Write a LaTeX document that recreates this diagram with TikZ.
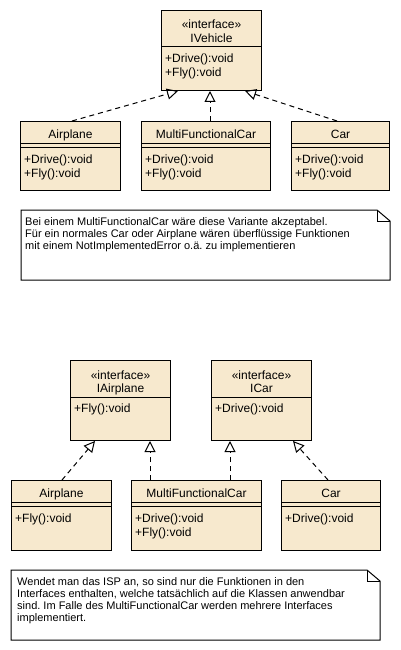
\documentclass[tikz,border=0pt]{standalone}
\usepackage{fontspec}
\setmainfont{Liberation Sans}
\usetikzlibrary{arrows.meta,calc}
\definecolor{umlfill}{RGB}{247,233,206}
\frenchspacing
\tikzset{
  cls/.style={draw=black, fill=umlfill, line width=1pt, anchor=north west, inner sep=0pt},
  ttl/.style={anchor=base, inner sep=0pt, font=\fontsize{12}{14}\selectfont},
  mth/.style={anchor=base west, inner sep=0pt, font=\fontsize{12}{14}\selectfont},
  ntxt/.style={anchor=base west, inner sep=0pt, font=\fontsize{11}{12}\selectfont},
  sep/.style={line width=1pt},
  impl/.style={line width=1pt, dash pattern=on 5pt off 4pt, -{Triangle[open,length=11pt,width=11pt]}},
  notebox/.style={draw=black, fill=white, line width=1pt, line join=miter}
}
\newcommand\myclass[6]{% name, x, y, w, h, title
  \node[cls, minimum width=#4, minimum height=#5] (#1) at (#2,#3) {};
  \draw[sep] ([yshift=-22pt]#1.north west) -- ([yshift=-22pt]#1.north east);
  \draw[sep] ([yshift=-26pt]#1.north west) -- ([yshift=-26pt]#1.north east);
  \node[ttl] (#1-t) at ([yshift=-17.5pt]#1.north) {#6};
}
\newcommand\myiface[6]{% name, x, y, w, h, title
  \node[cls, minimum width=#4, minimum height=#5] (#1) at (#2,#3) {};
  \draw[sep] ([yshift=-37pt]#1.north west) -- ([yshift=-37pt]#1.north east);
  \node[ttl] (#1-s) at ([yshift=-19pt]#1.north) {«interface»};
  \node[ttl] (#1-t) at ([yshift=-32.5pt]#1.north) {#6};
}
\begin{document}
\begin{tikzpicture}[x=1pt,y=-1pt]
\useasboundingbox[fill=white] (0,0) rectangle (400,650);

% ---------- top part ----------
\myiface{iveh}{161}{10}{100}{80}{IVehicle}
\node[mth] (iveh-m1) at ([xshift=4pt,yshift=-52.8pt]iveh.north west) {+Drive():void};
\node[mth] (iveh-m2) at ([xshift=4pt,yshift=-66.8pt]iveh.north west) {+Fly():void};

\myclass{airA}{20}{121}{100}{69}{Airplane}
\node[mth] (airA-m1) at ([xshift=4pt,yshift=-42.5pt]airA.north west) {+Drive():void};
\node[mth] (airA-m2) at ([xshift=4pt,yshift=-56.5pt]airA.north west) {+Fly():void};

\myclass{mfcA}{141}{121}{129}{69}{MultiFunctionalCar}
\node[mth] (mfcA-m1) at ([xshift=4pt,yshift=-42.5pt]mfcA.north west) {+Drive():void};
\node[mth] (mfcA-m2) at ([xshift=4pt,yshift=-56.5pt]mfcA.north west) {+Fly():void};

\myclass{carA}{291}{121}{98}{69}{Car}
\node[mth] (carA-m1) at ([xshift=4pt,yshift=-42.5pt]carA.north west) {+Drive():void};
\node[mth] (carA-m2) at ([xshift=4pt,yshift=-56.5pt]carA.north west) {+Fly():void};

\draw[impl] ($(airA.north west)+(52,0)$) -- ($(iveh.south west)+(17,0)$);
\draw[impl] ($(mfcA.north west)+(69,0)$) -- ($(iveh.south west)+(49,0)$);
\draw[impl] ($(carA.north west)+(46,0)$) -- ($(iveh.south west)+(84,0)$);

% note 1
\coordinate (n1) at (21,210);
\draw[notebox] (n1) -- ++(356,0) -- ++(13,11) -- ++(0,59) -- ++(-369,0) -- cycle;
\draw[line width=1pt] ($(n1)+(356,0)$) -- ++(0,11) -- ++(13,0);
\node[ntxt] (n1-l1) at ($(n1)+(4,15.7)$) {Bei einem MultiFunctionalCar wäre diese Variante akzeptabel.};
\node[ntxt] (n1-l2) at ($(n1)+(4,27.7)$) {Für ein normales Car oder Airplane wären überflüssige Funktionen};
\node[ntxt] (n1-l3) at ($(n1)+(4,39.7)$) {mit einem NotImplementedError o.ä. zu implementieren};

% ---------- bottom part ----------
\myiface{iair}{70}{360}{100}{80}{IAirplane}
\node[mth] (iair-m1) at ([xshift=4pt,yshift=-52.8pt]iair.north west) {+Fly():void};

\myiface{icar}{211}{360}{100}{80}{ICar}
\node[mth] (icar-m1) at ([xshift=4pt,yshift=-52.8pt]icar.north west) {+Drive():void};

\myclass{airB}{11}{480}{100}{70}{Airplane}
\node[mth] (airB-m1) at ([xshift=4pt,yshift=-42.5pt]airB.north west) {+Fly():void};

\myclass{mfcB}{131}{480}{130}{70}{MultiFunctionalCar}
\node[mth] (mfcB-m1) at ([xshift=4pt,yshift=-42.5pt]mfcB.north west) {+Drive():void};
\node[mth] (mfcB-m2) at ([xshift=4pt,yshift=-56.5pt]mfcB.north west) {+Fly():void};

\myclass{carB}{281}{480}{99}{70}{Car}
\node[mth] (carB-m1) at ([xshift=4pt,yshift=-42.5pt]carB.north west) {+Drive():void};

\draw[impl] ($(airB.north west)+(51,0)$) -- ($(iair.south west)+(25,0)$);
\draw[impl] ($(mfcB.north west)+(19,0)$) -- ($(iair.south west)+(80,0)$);
\draw[impl] ($(mfcB.north west)+(99,0)$) -- ($(icar.south west)+(19,0)$);
\draw[impl] ($(carB.north west)+(47,0)$) -- ($(icar.south west)+(82,0)$);

% note 2
\coordinate (n2) at (11,570);
\draw[notebox] (n2) -- ++(356,0) -- ++(13,11) -- ++(0,59) -- ++(-369,0) -- cycle;
\draw[line width=1pt] ($(n2)+(356,0)$) -- ++(0,11) -- ++(13,0);
\node[ntxt] (n2-l1) at ($(n2)+(6,15.7)$) {Wendet man das ISP an, so sind nur die Funktionen in den};
\node[ntxt] (n2-l2) at ($(n2)+(6,27.7)$) {Interfaces enthalten, welche tatsächlich auf die Klassen anwendbar};
\node[ntxt] (n2-l3) at ($(n2)+(6,39.7)$) {sind. Im Falle des MultiFunctionalCar werden mehrere Interfaces};
\node[ntxt] (n2-l4) at ($(n2)+(6,51.7)$) {implementiert.};
\end{tikzpicture}
\end{document}
